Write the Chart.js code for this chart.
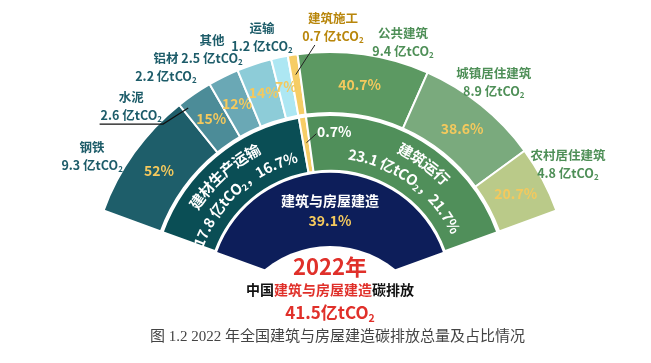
<!DOCTYPE html>
<html><head><meta charset="utf-8">
<script src="https://cdn.jsdelivr.net/npm/chart.js@4.4.0/dist/chart.umd.min.js"></script>
<style>
html,body{margin:0;padding:0;background:#fff;}
#wrap{position:relative;width:651px;height:363px;overflow:hidden;}
#c{position:absolute;left:0;top:0;}
.t{position:absolute;left:0;width:660px;text-align:center;font-family:"Noto Sans CJK SC","Noto Sans",sans-serif;font-weight:700;white-space:nowrap;line-height:1;}
.t sub{font-size:0.62em;vertical-align:-0.28em;line-height:0;}
#cap{position:absolute;left:150px;top:328px;font-family:"Liberation Serif","Noto Sans CJK SC",serif;font-size:15px;color:#444;white-space:nowrap;line-height:1.1;}
</style></head>
<body><div id="wrap"><canvas id="c" width="651" height="363"></canvas>
<div class="t" id="year" style="top:254px;font-size:22px;color:#e0302a"></div>
<div class="t" id="sub" style="top:282px;font-size:14px;color:#111"></div>
<div class="t" id="tot" style="top:303px;font-size:17px;color:#e0302a"></div>
<div id="cap"></div>
</div>
<script>
// ---------- data ----------
const outerCategories = ['钢铁','水泥','铝材','其他','运输','建筑施工','公共建筑','城镇居住建筑','农村居住建筑'];
const outerValues = [9.3, 2.6, 2.2, 2.5, 1.2, 0.7, 9.4, 8.9, 4.8];
const outerShares = ['52%','15%','12%','14%','7%','','40.7%','38.6%','20.7%'];
const middleCategories = ['建材生产运输','建筑施工','建筑运行'];
const middleValues = [17.8, 0.7, 23.1];
const middleShares = ['16.7%','0.7%','21.7%'];
const innerCategories = ['建筑与房屋建造'];
const innerValues = [41.5];
const innerShares = ['39.1%'];
const yearLabel = '2022年';
const totalValue = 41.5;
const unit = '亿tCO₂';
const captionText = '图 1.2 2022 年全国建筑与房屋建造碳排放总量及占比情况';

// ---------- styles ----------
const outerColors = ['#1E5E6A','#4C8C98','#6AA8B5','#8DCCD8','#ADE7F3','#F6CD66','#5C9962','#7AAA7D','#BACA89'];
const middleColors = ['#0A4E55','#F6CD66','#508F5A'];
const innerColors = ['#0D1E5A'];
const outerLabelColors = ['#1d5c69','#1d5c69','#1d5c69','#1d5c69','#1d5c69','#b8860b','#4e8f57','#4e8f57','#4e8f57'];
// label placement: [angle deg (standard), distance px from centre] for the name line
const outerLabelPos = [[148.5,279],[135.4,279],[125.0,286],[115.0,279],[104.4,273],[89.4,275],[74.3,270],[53.3,274],[30.1,275]];
const middleAngleShift = [2.0, 0, -4.8];
const FONT = '"Noto Sans CJK SC","Noto Sans",sans-serif';
const PCT = '#F4C95D';

document.getElementById('year').textContent = yearLabel;
document.getElementById('sub').innerHTML = '中国<span style="color:#e0302a">' + innerCategories[0] + '</span>碳排放';
document.getElementById('tot').innerHTML = totalValue + '亿tCO<sub>2</sub>';
document.getElementById('cap').textContent = captionText;

function tokens(s){
  const out=[]; let buf='';
  for (const ch of s){ if(ch==='₂'){ if(buf) out.push([buf,false]); out.push(['2',true]); buf=''; } else buf+=ch; }
  if(buf) out.push([buf,false]);
  return out;
}
function drawRich(ctx, s, x, y, size, color, align){
  const toks = tokens(s);
  const fM = `bold ${size}px ${FONT}`, fS = `bold ${Math.round(size*0.64)}px ${FONT}`;
  let w=0; toks.forEach(t=>{ctx.font=t[1]?fS:fM; w+=ctx.measureText(t[0]).width;});
  let sx = align==='left'? x : (align==='right'? x-w : x-w/2);
  ctx.fillStyle=color; ctx.textBaseline='middle'; ctx.textAlign='left';
  toks.forEach(t=>{ ctx.font=t[1]?fS:fM; ctx.fillText(t[0], sx, t[1]? y+size*0.3 : y); sx+=ctx.measureText(t[0]).width; });
  return [x - (align==='left'?0:w/2), w];
}
function drawArcText(ctx, s, cx, cy, r, centerDeg, size, color){
  const chars=[]; for (const ch of s){ chars.push(ch==='₂'?['2',true]:[ch,false]); }
  const fM = `bold ${size}px ${FONT}`, fS = `bold ${Math.round(size*0.64)}px ${FONT}`;
  const ws = chars.map(c=>{ctx.font=c[1]?fS:fM; return ctx.measureText(c[0]).width;});
  const total = ws.reduce((a,b)=>a+b,0);
  const a0 = centerDeg*Math.PI/180 + total/(2*r);
  let acc=0;
  chars.forEach((c,i)=>{
    const a = a0 - (acc + ws[i]/2)/r; acc += ws[i];
    const x = cx + r*Math.cos(a), y = cy - r*Math.sin(a);
    ctx.save(); ctx.translate(x,y); ctx.rotate(Math.PI/2 - a);
    ctx.font = c[1]?fS:fM; ctx.fillStyle=color; ctx.textAlign='center'; ctx.textBaseline='middle';
    ctx.fillText(c[0], 0, c[1]? size*0.3 : 0);
    ctx.restore();
  });
}
const midStd = arc => -((arc.startAngle + arc.endAngle)/2)*180/Math.PI;

const labelPlugin = {
  id: 'sunLabels',
  afterDatasetsDraw(chart){
    const ctx = chart.ctx;
    const outerMeta = chart.getDatasetMeta(0), midMeta = chart.getDatasetMeta(2), innMeta = chart.getDatasetMeta(4);
    const a0 = outerMeta.data[0];
    const cx = a0.x, cy = a0.y, R = a0.outerRadius;
    const P = (deg, r) => [cx + r*Math.cos(deg*Math.PI/180), cy - r*Math.sin(deg*Math.PI/180)];
    // white hole of the inner ring
    ctx.save(); ctx.fillStyle='#fff'; ctx.beginPath();
    ctx.arc(cx, cy + 0.232*R, 0.427*R, 0, Math.PI*2); ctx.fill(); ctx.restore();

    // outer ring shares
    outerMeta.data.forEach((arc,i)=>{
      if(!outerShares[i]) return;
      const p = arc.getCenterPoint();
      drawRich(ctx, outerShares[i], p.x, p.y, 14, PCT, 'center');
    });
    // outer labels
    outerMeta.data.forEach((arc,i)=>{
      const [x,y] = P(outerLabelPos[i][0], outerLabelPos[i][1]);
      drawRich(ctx, outerCategories[i], x, y, 12.5, outerLabelColors[i], 'center');
      const [lx,w] = drawRich(ctx, outerValues[i].toFixed(1)+' '+unit, x, y+18, 12.5, outerLabelColors[i], 'center');
      if (i===1){ // cement: underline + leader
        const s = -arc.startAngle*180/Math.PI, e = -arc.endAngle*180/Math.PI;
        const t = P(s + 0.14*(e-s), arc.outerRadius - 8);
        ctx.save(); ctx.strokeStyle='#111'; ctx.lineWidth=1.2; ctx.beginPath();
        ctx.moveTo(lx-1, y+27); ctx.lineTo(lx+w+1, y+27); ctx.lineTo(t[0], t[1]); ctx.stroke(); ctx.restore();
      }
      if (i===5){ // construction: leader
        const t = P(midStd(arc), arc.outerRadius - 20);
        ctx.save(); ctx.strokeStyle='#222'; ctx.lineWidth=1; ctx.beginPath();
        ctx.moveTo(x-18, y+27); ctx.lineTo(t[0], t[1]); ctx.stroke(); ctx.restore();
      }
    });
    // middle ring labels
    midMeta.data.forEach((arc,i)=>{
      const m = midStd(arc) + middleAngleShift[i];
      if (i===1){
        const t = P(m, arc.innerRadius + 30);
        const s = [t[0]+10, t[1]-9];
        ctx.save(); ctx.strokeStyle='#222'; ctx.lineWidth=1; ctx.beginPath();
        ctx.moveTo(s[0], s[1]); ctx.lineTo(t[0], t[1]); ctx.stroke(); ctx.restore();
        drawRich(ctx, middleShares[i], s[0]+0.5, s[1]-2, 14, '#fff', 'left');
        return;
      }
      const r1 = arc.innerRadius + 39;
      const r2 = arc.innerRadius + 18;
      drawArcText(ctx, middleCategories[i], cx, cy, r1, m, 15, '#fff');
      drawArcText(ctx, middleValues[i].toFixed(1)+' '+unit+'，'+middleShares[i], cx, cy, r2, m, 14.5, '#fff');
    });
    // inner ring labels
    const ia = innMeta.data[0];
    const [ix, iy] = P(90, ia.outerRadius - 28);
    drawRich(ctx, innerCategories[0], ix, iy, 14, '#fff', 'center');
    drawRich(ctx, innerShares[0], ix, iy+20, 14, PCT, 'center');
  }
};

const spacer = {data:[1], backgroundColor:['rgba(0,0,0,0)'], borderWidth:0, weight:2, hoverOffset:0};
new Chart(document.getElementById('c'), {
  type: 'doughnut',
  data: {
    labels: outerCategories,
    datasets: [
      {data: outerValues, backgroundColor: outerColors, borderColor:'#fff', borderWidth:2, weight:61},
      spacer,
      {data: middleValues, backgroundColor: middleColors, borderColor:'#fff', borderWidth:2, weight:56},
      Object.assign({}, spacer),
      {data: innerValues, backgroundColor: innerColors, borderWidth:0, weight:80}
    ]
  },
  options: {
    responsive:false, animation:false, devicePixelRatio:1,
    rotation:-70, circumference:140, radius:241, cutout:'16.67%',
    layout:{padding:{left:9,right:0,top:0,bottom:31.8}},
    plugins:{legend:{display:false}, tooltip:{enabled:false}, title:{display:false}},
    events:[]
  },
  plugins:[labelPlugin]
});
</script>
</body></html>
